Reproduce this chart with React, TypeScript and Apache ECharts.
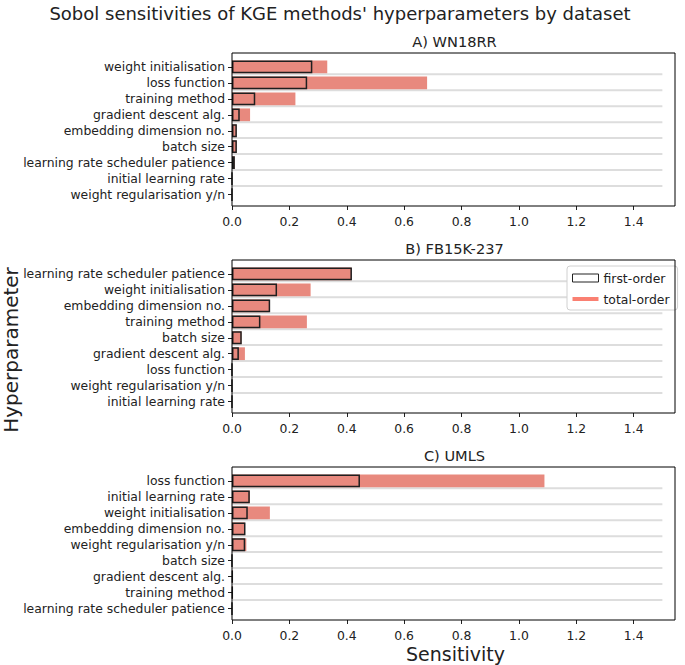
import React, { useEffect, useRef } from "react";
import * as echarts from "echarts";

const TITLE = "Sobol sensitivities of KGE methods' hyperparameters by dataset";
const PANEL_TITLES = ["A) WN18RR", "B) FB15K-237", "C) UMLS"];

const catsA = [
  "weight initialisation",
  "loss function",
  "training method",
  "gradient descent alg.",
  "embedding dimension no.",
  "batch size",
  "learning rate scheduler patience",
  "initial learning rate",
  "weight regularisation y/n",
];
const firstA = [0.28, 0.262, 0.081, 0.027, 0.017, 0.017, 0.01, 0, 0];
const totalA = [0.332, 0.68, 0.221, 0.063, 0.015, 0.016, 0.009, 0, 0];

const catsB = [
  "learning rate scheduler patience",
  "weight initialisation",
  "embedding dimension no.",
  "training method",
  "batch size",
  "gradient descent alg.",
  "loss function",
  "weight regularisation y/n",
  "initial learning rate",
];
const firstB = [0.418, 0.157, 0.133, 0.099, 0.034, 0.024, 0, 0, 0];
const totalB = [0.416, 0.274, 0.13, 0.261, 0.033, 0.045, 0, 0, 0];

const catsC = [
  "loss function",
  "initial learning rate",
  "weight initialisation",
  "embedding dimension no.",
  "weight regularisation y/n",
  "batch size",
  "gradient descent alg.",
  "training method",
  "learning rate scheduler patience",
];
const firstC = [0.446, 0.062, 0.055, 0.047, 0.046, 0, 0.002, 0.002, 0];
const totalC = [1.089, 0.062, 0.132, 0.045, 0.05, 0, 0.003, 0.003, 0];

const GUIDE_END = 1.5;
const X_MAX = 1.544;
const X_TICK = 0.2;

const FONT = "DejaVu Sans";
const TEXT = "#222222";
const TOTAL_COLOR = "#e8897e";
const LEGEND_TOTAL = "#fa8072";

export default function App() {
  const ref = useRef<HTMLDivElement>(null);

  useEffect(() => {
    if (!ref.current) return;
    const chart = echarts.init(ref.current, null, { renderer: "svg" });

    const panels = [
      { cats: catsA, first: firstA, total: totalA },
      { cats: catsB, first: firstB, total: totalB },
      { cats: catsC, first: firstC, total: totalC },
    ];
    const frameTops = [53, 260, 467];
    const frameH = 153;
    const left = 232;
    const right = 10;
    const frameW = 685 - left - right;

    const grids: any[] = [];
    const xAxes: any[] = [];
    const yAxes: any[] = [];
    const series: any[] = [];
    const graphics: any[] = [];

    panels.forEach((p, i) => {
      const T = frameTops[i];
      grids.push({ left, right, top: T + 6, height: 143.5 });
      xAxes.push({
        gridIndex: i,
        type: "value",
        min: 0,
        max: X_MAX,
        interval: X_TICK,
        offset: 3.5,
        axisLine: { show: false },
        axisTick: { show: true, length: 4, lineStyle: { color: TEXT, width: 1 } },
        splitLine: { show: false },
        axisLabel: {
          color: TEXT,
          fontFamily: FONT,
          fontSize: 12.4,
          margin: 9,
          showMaxLabel: false,
          formatter: (v: number) => {
            const k = v / X_TICK;
            return Math.abs(k - Math.round(k)) < 1e-6 ? v.toFixed(1) : "";
          },
        },
      });
      yAxes.push({
        gridIndex: i,
        type: "category",
        inverse: true,
        data: p.cats,
        axisLine: { show: false },
        axisTick: {
          show: true,
          alignWithLabel: true,
          length: 4,
          lineStyle: { color: TEXT, width: 1 },
        },
        axisLabel: {
          color: TEXT,
          fontFamily: FONT,
          fontSize: 12.4,
          margin: 7,
          interval: 0,
        },
        splitLine: { show: false },
      });
      series.push({
        type: "custom",
        name: "guide",
        xAxisIndex: i,
        yAxisIndex: i,
        z: 1,
        silent: true,
        encode: { x: 0, y: 1 },
        data: p.cats.slice(0, 8).map((c) => [GUIDE_END, c]),
        renderItem: (params: any, api: any) => {
          const y = api.value(1);
          const p0 = api.coord([0, y]);
          const p1 = api.coord([api.value(0), y]);
          const band = api.size([0, 1])[1];
          const yy = p0[1] + band * 0.46;
          return {
            type: "line",
            shape: { x1: p0[0], y1: yy, x2: p1[0], y2: yy },
            style: { stroke: "#dddddd", lineWidth: 2 },
          };
        },
      });
      series.push({
        type: "bar",
        name: "total-order",
        xAxisIndex: i,
        yAxisIndex: i,
        z: 2,
        barWidth: "80%",
        data: p.total,
        itemStyle: { color: TOTAL_COLOR },
      });
      series.push({
        type: "bar",
        name: "first-order",
        xAxisIndex: i,
        yAxisIndex: i,
        z: 3,
        barWidth: "80%",
        barGap: "-100%",
        data: p.first,
        itemStyle: {
          color: "rgba(0,0,0,0)",
          borderColor: "#1f1f1f",
          borderWidth: 1.5,
        },
      });
      graphics.push({
        type: "rect",
        z: 100,
        shape: { x: left, y: T, width: frameW, height: frameH },
        style: { fill: "none", stroke: "#000000", lineWidth: 1 },
        silent: true,
      });
      graphics.push({
        type: "text",
        x: left + frameW / 2 + 1,
        y: T - 12,
        style: {
          text: PANEL_TITLES[i],
          fill: TEXT,
          font: `14.6px '${FONT}'`,
          textAlign: "center",
          textVerticalAlign: "middle",
        },
      });
    });

    graphics.push({
      type: "text",
      x: 340,
      y: 13,
      style: {
        text: TITLE,
        fill: TEXT,
        font: `18px '${FONT}'`,
        textAlign: "center",
        textVerticalAlign: "middle",
      },
    });
    graphics.push({
      type: "text",
      x: left + frameW / 2 + 2,
      y: 654,
      style: {
        text: "Sensitivity",
        fill: TEXT,
        font: `19px '${FONT}'`,
        textAlign: "center",
        textVerticalAlign: "middle",
      },
    });
    graphics.push({
      type: "text",
      x: 11,
      y: 350,
      rotation: Math.PI / 2,
      style: {
        text: "Hyperparameter",
        fill: TEXT,
        font: `20px '${FONT}'`,
        textAlign: "center",
        textVerticalAlign: "middle",
      },
    });

    chart.setOption({
      animation: false,
      backgroundColor: "#ffffff",
      grid: grids,
      xAxis: xAxes,
      yAxis: yAxes,
      series,
      graphic: graphics,
      legend: {
        left: 567,
        top: 266,
        orient: "vertical",
        selectedMode: false,
        itemWidth: 26,
        itemHeight: 8,
        itemGap: 9,
        padding: [6, 8, 5, 5],
        borderColor: "#d0d0d0",
        borderWidth: 1,
        borderRadius: 3,
        backgroundColor: "#ffffff",
        textStyle: { color: TEXT, fontFamily: FONT, fontSize: 12.4 },
        data: [
          {
            name: "first-order",
            icon: "rect",
            itemStyle: {
              color: "rgba(0,0,0,0)",
              borderColor: "#222222",
              borderWidth: 1,
            },
          },
          {
            name: "total-order",
            icon: "path://M0,0L26,0L26,4L0,4Z",
            itemStyle: { color: LEGEND_TOTAL, borderWidth: 0 },
          },
        ],
      },
    });

    return () => chart.dispose();
  }, []);

  return (
    <div
      ref={ref}
      style={{ position: "fixed", left: 0, top: 0, width: 685, height: 665 }}
    />
  );
}
